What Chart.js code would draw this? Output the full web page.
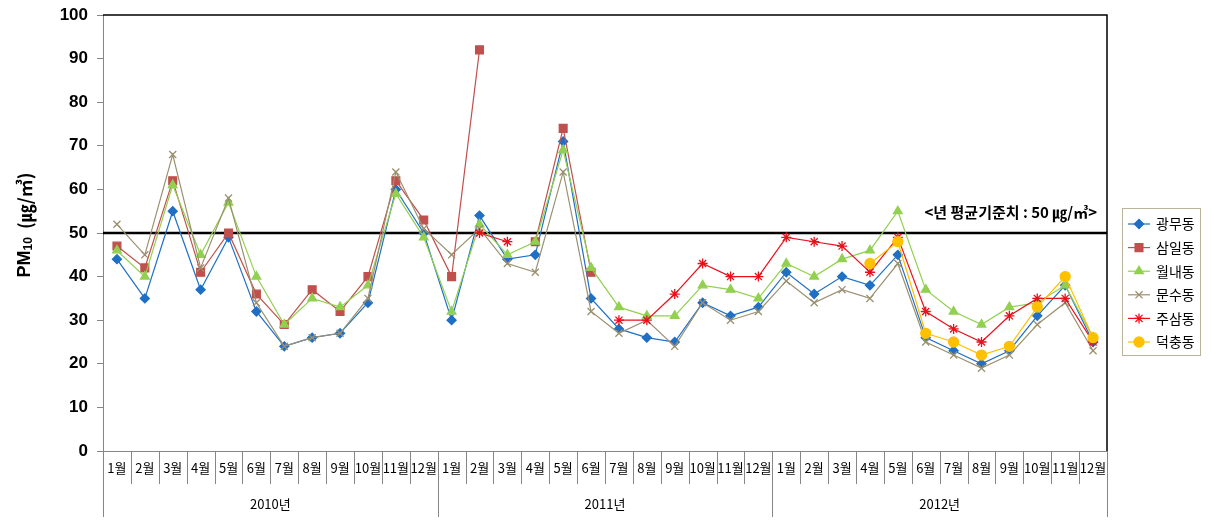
<!DOCTYPE html>
<html>
<head>
<meta charset="utf-8">
<script src="https://cdn.jsdelivr.net/npm/chart.js@4.4.1/dist/chart.umd.min.js"></script>
<style>
  html, body { margin: 0; padding: 0; background: #fff; }
  #wrap { width: 1211px; height: 524px; }
</style>
</head>
<body>
<div id="wrap"><canvas id="pmChart" width="1211" height="524"></canvas></div>
<script>
const monthLabels = ['1월', '2월', '3월', '4월', '5월', '6월', '7월', '8월', '9월', '10월', '11월', '12월'];
const years = ['2010년', '2011년', '2012년'];
const categories = years.flatMap(() => monthLabels);

const stationNames = ['광무동', '삼일동', '월내동', '문수동', '주삼동', '덕충동'];
const gwangmu = [44, 35, 55, 37, 49, 32, 24, 26, 27, 34, 60, 50,
                 30, 54, 44, 45, 71, 35, 28, 26, 25, 34, 31, 33,
                 41, 36, 40, 38, 45, 26, 23, 20, 23, 31, 38, 25];
const samil = [47, 42, 62, 41, 50, 36, 29, 37, 32, 40, 62, 53,
               40, 92, null, 48, 74, 41, null, null, null, null, null, null,
               null, null, null, null, null, null, null, null, null, null, null, null];
const wollae = [46, 40, 61, 45, 57, 40, 29, 35, 33, 38, 59, 49,
                32, 52, 45, 48, 69, 42, 33, 31, 31, 38, 37, 35,
                43, 40, 44, 46, 55, 37, 32, 29, 33, 34, 38, 26];
const munsu = [52, 45, 68, 42, 58, 34, 24, 26, 27, 35, 64, 51,
               45, 51, 43, 41, 64, 32, 27, 30, 24, 34, 30, 32,
               39, 34, 37, 35, 43, 25, 22, 19, 22, 29, 34, 23];
const jusam = [null, null, null, null, null, null, null, null, null, null, null, null,
               null, 50, 48, null, null, null, 30, 30, 36, 43, 40, 40,
               49, 48, 47, 41, 49, 32, 28, 25, 31, 35, 35, 25];
const deokchung = [null, null, null, null, null, null, null, null, null, null, null, null,
                   null, null, null, null, null, null, null, null, null, null, null, null,
                   null, null, null, 43, 48, 27, 25, 22, 24, 33, 40, 26];
const seriesValues = [gwangmu, samil, wollae, munsu, jusam, deokchung];

const palette = ['#1f6fc5', '#c0504d', '#92d050', '#9a9070', '#e8111b', '#ffc000'];
const markers = ['rectRot', 'rect', 'triangle', 'crossRot', 'star', 'circle'];
const markerSizes = [4.5, 5.5, 5, 5, 5, 5];
const standardValue = 50;
const standardText = '<년 평균기준치 : 50 ㎍/㎥>';

const axisGray = '#868686';
const krFont = '"Noto Sans CJK KR", "Noto Sans", sans-serif';

const frameAndAxis = {
    id: 'frameAndAxis',
    beforeDatasetsDraw(chart) {
        const { ctx, chartArea: area, scales: { y } } = chart;
        ctx.save();
        // plot frame: top and right black, standard line
        ctx.strokeStyle = '#000';
        ctx.lineWidth = 1.5;
        ctx.beginPath();
        ctx.moveTo(area.left, area.top);
        ctx.lineTo(area.right, area.top);
        ctx.lineTo(area.right, area.bottom);
        ctx.stroke();
        const yRef = y.getPixelForValue(standardValue);
        ctx.lineWidth = 2.5;
        ctx.beginPath();
        ctx.moveTo(area.left, yRef);
        ctx.lineTo(area.right, yRef);
        ctx.stroke();
        ctx.restore();
    },
    afterDraw(chart) {
        const { ctx, chartArea: area, scales: { x, y } } = chart;
        const step = x.getPixelForValue(1) - x.getPixelForValue(0);
        ctx.save();
        // bottom axis line
        ctx.strokeStyle = axisGray;
        ctx.lineWidth = 1;
        ctx.beginPath();
        ctx.moveTo(area.left - 5, area.bottom + 0.5);
        ctx.lineTo(area.right, area.bottom + 0.5);
        ctx.stroke();
        // month separators and labels
        ctx.font = '13px ' + krFont;
        ctx.fillStyle = '#000';
        ctx.textAlign = 'center';
        ctx.textBaseline = 'middle';
        categories.forEach((label, i) => {
            const cx = x.getPixelForValue(i);
            const edge = Math.round(cx - step / 2) + 0.5;
            const isYearEdge = i % 12 === 0;
            ctx.beginPath();
            ctx.moveTo(edge, area.bottom);
            ctx.lineTo(edge, area.bottom + (isYearEdge ? 66 : 33));
            ctx.stroke();
            ctx.fillText(label, cx, area.bottom + 17);
        });
        const lastEdge = Math.round(area.right) + 0.5;
        ctx.beginPath();
        ctx.moveTo(lastEdge, area.bottom);
        ctx.lineTo(lastEdge, area.bottom + 66);
        ctx.stroke();
        years.forEach((yr, k) => {
            const mid = (x.getPixelForValue(k * 12) + x.getPixelForValue(k * 12 + 11)) / 2;
            ctx.fillText(yr, mid, area.bottom + 53);
        });

        // standard annotation
        ctx.font = 'bold 15px ' + krFont;
        ctx.textAlign = 'right';
        ctx.textBaseline = 'alphabetic';
        ctx.fillText(standardText, area.right - 10, y.getPixelForValue(standardValue) - 15);

        // y title with subscript
        ctx.translate(25, 225);
        ctx.rotate(-Math.PI / 2);
        ctx.textAlign = 'left';
        ctx.textBaseline = 'middle';
        const big = 'bold 18px "Liberation Sans", Arial, sans-serif';
        const small = 'bold 12px "Liberation Sans", Arial, sans-serif';
        const unitFont = 'bold 18px ' + krFont;
        const unit = '  (㎍/㎥)';
        ctx.font = big;
        const wPM = ctx.measureText('PM').width;
        ctx.font = small;
        const wSub = ctx.measureText('10').width;
        ctx.font = unitFont;
        const wUnit = ctx.measureText(unit).width;
        let px = -(wPM + wSub + wUnit) / 2;
        ctx.font = big;
        ctx.fillText('PM', px, 0);
        px += wPM;
        ctx.font = small;
        ctx.fillText('10', px, 4);
        px += wSub;
        ctx.font = unitFont;
        ctx.fillText(unit, px, 0);
        ctx.setTransform(1, 0, 0, 1, 0, 0);

        // legend box
        const lx = 1122, ly = 208, lw = 78, lh = 147;
        ctx.strokeStyle = '#b8b39a';
        ctx.lineWidth = 1;
        ctx.strokeRect(lx + 0.5, ly + 0.5, lw, lh);
        ctx.font = '14px ' + krFont;
        ctx.textAlign = 'left';
        ctx.textBaseline = 'middle';
        stationNames.forEach((name, i) => {
            const rowY = ly + 16 + i * 23.6;
            ctx.strokeStyle = palette[i];
            ctx.lineWidth = 1.2;
            ctx.beginPath();
            ctx.moveTo(lx + 6, rowY);
            ctx.lineTo(lx + 28, rowY);
            ctx.stroke();
            ctx.fillStyle = palette[i];
            ctx.lineWidth = 1.3;
            Chart.helpers.drawPoint(ctx, {
                pointStyle: markers[i],
                radius: markerSizes[i],
                borderWidth: 1.3
            }, lx + 17, rowY);
            if (markers[i] !== 'crossRot' && markers[i] !== 'star') {
                ctx.fill();
            }
            ctx.fillStyle = '#000';
            ctx.fillText(name, lx + 34, rowY);
        });
        ctx.restore();
    }
};

const ctx = document.getElementById('pmChart').getContext('2d');
new Chart(ctx, {
    type: 'line',
    data: {
        labels: categories,
        datasets: seriesValues.map((values, i) => ({
            label: stationNames[i],
            data: values,
            borderColor: palette[i],
            backgroundColor: palette[i],
            borderWidth: 1.2,
            pointStyle: markers[i],
            pointRadius: markerSizes[i],
            pointBorderWidth: 1.3,
            pointBorderColor: palette[i],
            pointBackgroundColor: palette[i],
            tension: 0,
            spanGaps: false,
            order: 6 - i
        }))
    },
    options: {
        responsive: false,
        animation: false,
        devicePixelRatio: 1,
        layout: {
            padding: { left: 0, right: 104, top: 15, bottom: 73 }
        },
        plugins: {
            legend: { display: false },
            tooltip: { enabled: false }
        },
        scales: {
            x: {
                type: 'category',
                offset: true,
                display: false
            },
            y: {
                min: 0,
                max: 100,
                afterFit: scale => {
                    scale.width = 103;
                    scale.paddingTop = 0;
                    scale.paddingBottom = 0;
                },
                ticks: {
                    stepSize: 10,
                    color: '#000',
                    padding: 9,
                    font: { family: '"Liberation Sans", Arial, sans-serif', size: 17, weight: 'bold' }
                },
                grid: {
                    drawOnChartArea: false,
                    tickLength: 6,
                    color: axisGray
                },
                border: { color: axisGray }
            }
        }
    },
    plugins: [frameAndAxis]
});
</script>
</body>
</html>
